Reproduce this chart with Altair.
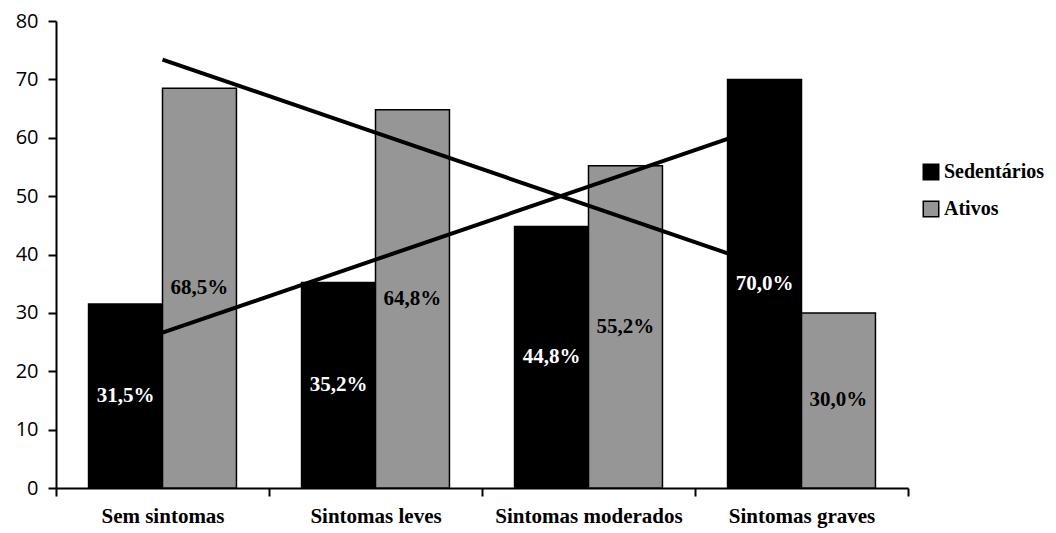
import altair as alt
import pandas as pd
import numpy as np

categorias = ["Sem sintomas", "Sintomas leves", "Sintomas moderados", "Sintomas graves"]
series = ["Sedentários", "Ativos"]
sedentarios = [31.5, 35.2, 44.8, 70.0]
ativos = [68.5, 64.8, 55.2, 30.0]

rows = []
for i, c in enumerate(categorias):
    for s, vals in zip(series, [sedentarios, ativos]):
        v = vals[i]
        rows.append({"cat": c, "serie": s, "valor": v,
                     "rotulo": f"{v:.1f}".replace(".", ",") + "%"})
df = pd.DataFrame(rows)

# linear trend lines (Excel-style) for each series
idx = np.arange(1, len(categorias) + 1)
trows = []
for s, vals in zip(series, [sedentarios, ativos]):
    m, b = np.polyfit(idx, vals, 1)
    for i, c in enumerate(categorias):
        trows.append({"cat": c, "serie": s, "tend": m * idx[i] + b})
dft = pd.DataFrame(trows)

xscale = alt.Scale(domain=categorias, paddingInner=0, paddingOuter=0)
xaxis = alt.Axis(title=None, labelAngle=0, tickBand="extent", labelFont="Liberation Serif",
                 labelFontWeight="bold", labelFontSize=21, labelColor="black",
                 labelLimit=400, tickSize=8, tickWidth=2, tickColor="black",
                 domainColor="black", domainWidth=2, labelPadding=9, grid=False)
yaxis = alt.Axis(title=None, values=list(range(0, 81, 10)), labelFont="Open Sans",
                 labelFontSize=20, labelColor="black", tickSize=8, tickWidth=2,
                 tickColor="black", domainColor="black", domainWidth=2,
                 labelPadding=10, grid=False)
yscale = alt.Scale(domain=[0, 80], nice=False)
color = alt.Color("serie:N", scale=alt.Scale(domain=series, range=["black", "#969696"]),
                  legend=alt.Legend(title=None, orient="none", legendX=865, legendY=141,
                                    symbolType="square", symbolSize=240,
                                    symbolStrokeColor="black", symbolStrokeWidth=1.5,
                                    labelFont="Liberation Serif", labelFontWeight="bold",
                                    labelFontSize=20, labelColor="black", labelLimit=300,
                                    rowPadding=15, labelOffset=3))
xoff = alt.XOffset("serie:N", sort=series,
                   scale=alt.Scale(domain=series, paddingInner=0, paddingOuter=0.44))

base = alt.Chart(df)
bars = base.mark_bar(stroke="black", strokeWidth=1.5).encode(
    x=alt.X("cat:N", sort=categorias, scale=xscale, axis=xaxis),
    xOffset=xoff,
    y=alt.Y("valor:Q", scale=yscale, axis=yaxis),
    color=color,
)
labels = base.transform_calculate(meio="datum.valor / 2").mark_text(
    font="Liberation Serif", fontWeight="bold", fontSize=21, baseline="middle"
).encode(
    x=alt.X("cat:N", sort=categorias, scale=xscale, axis=xaxis),
    xOffset=xoff,
    y=alt.Y("meio:Q", scale=yscale, axis=yaxis),
    text="rotulo:N",
    color=alt.condition("datum.serie == 'Sedentários'", alt.value("white"), alt.value("black")),
)
trend = alt.Chart(dft).mark_line(color="black", strokeWidth=4).encode(
    x=alt.X("cat:N", sort=categorias, scale=xscale, axis=xaxis),
    y=alt.Y("tend:Q", scale=yscale, axis=yaxis),
    detail="serie:N",
)

chart = alt.layer(bars, trend, labels).properties(
    width=852, height=467,
    background="white",
    autosize=alt.AutoSizeParams(type="none"),
    padding={"left": 48, "top": 13, "right": 140, "bottom": 40},
).configure_view(stroke="white", strokeWidth=3)

chart.save("out.html", embed_options={"renderer": "svg", "actions": False})
